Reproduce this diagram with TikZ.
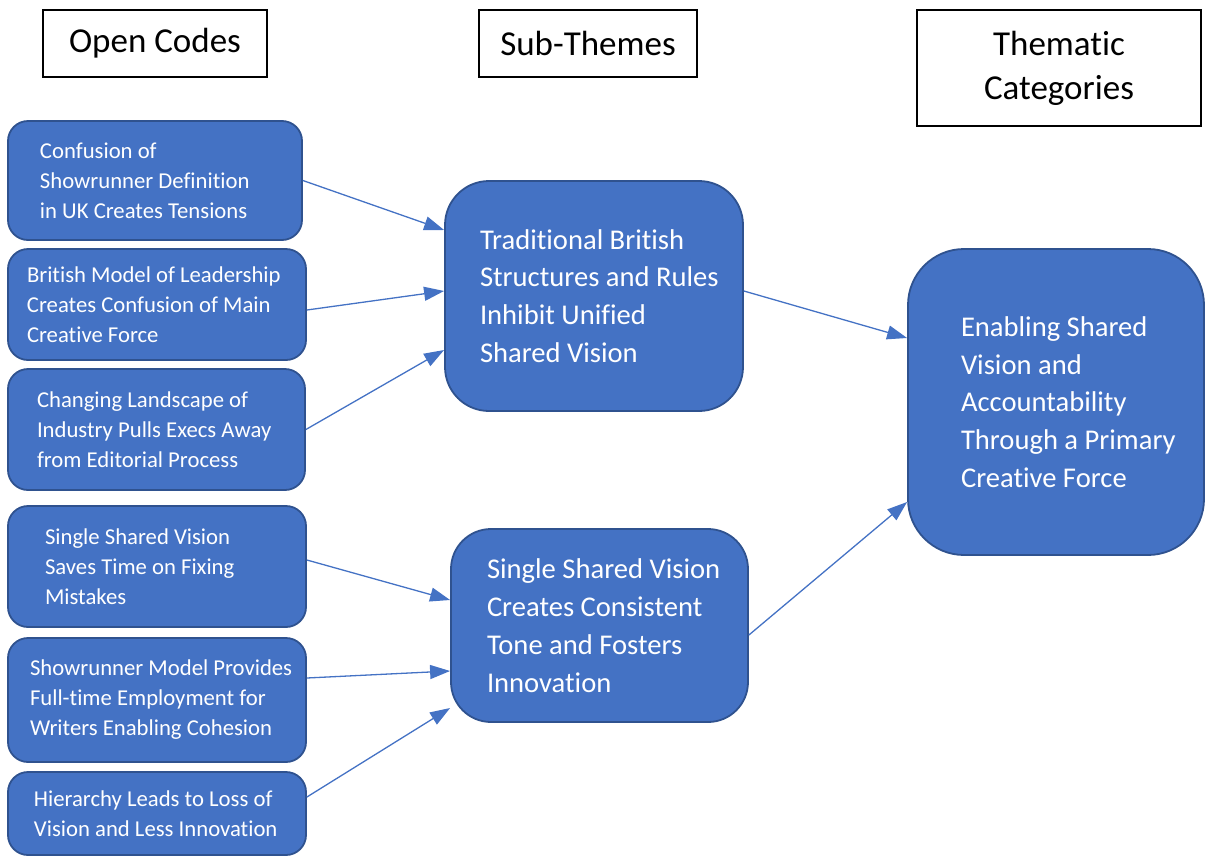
\documentclass[tikz,border=0pt]{standalone}
\usepackage{fontspec}
\setmainfont{Carlito}[Ligatures=NoCommon]
\usetikzlibrary{arrows.meta,calc}
\definecolor{boxblue}{HTML}{4472C4}
\definecolor{edgeblue}{HTML}{2F528F}

\begin{document}
\begin{tikzpicture}[x=0.5pt, y=-0.5pt,
    header/.style={draw=black, line width=1pt, font=\fontsize{17.5}{22}\selectfont, align=center, inner sep=0pt},
    code/.style={draw=edgeblue, fill=boxblue, text=white, line width=0.9pt, rounded corners=10pt,
        font=\fontsize{11.35}{15}\selectfont, align=flush left, inner sep=0pt, text width=149pt},
    theme/.style={code, font=\fontsize{14.3}{18.9}\selectfont},
    pad/.style={execute at begin node={\leftskip=#1\relax}},
    link/.style={draw=boxblue, line width=0.65pt, -{Triangle[length=10pt,width=7pt]}}]
    \useasboundingbox (0, 0) rectangle (1205, 857);
    % column headers
    \node[header, minimum width=112pt, minimum height=33.5pt] (hcodes) at (155, 43.5) {Open Codes};
    \node[header, minimum width=109pt, minimum height=33.5pt] (hsub) at (588, 43.5) {Sub-Themes};
    \node[header, minimum width=142pt, minimum height=58pt] (hcat) at (1059, 68) {Thematic\\Categories};
    % open codes
    \node[code, pad=16pt, text width=147pt, minimum height=59.5pt] (c1) at (155, 180.5) {Confusion of\\Showrunner Definition\\in UK Creates Tensions};
    \node[code, pad=9.5pt, minimum height=55.5pt] (c2) at (157, 304.5) {British Model of Leadership\\Creates Confusion of Main\\Creative Force};
    \node[code, pad=14.5pt, text width=148.5pt, minimum height=60.5pt] (c3) at (156.5, 429.5) {Changing Landscape of\\Industry Pulls Execs Away\\from Editorial Process};
    \node[code, pad=18.5pt, minimum height=60.5pt] (c4) at (157, 566.5) {Single Shared Vision\\Saves Time on Fixing\\Mistakes};
    \node[code, pad=11pt, minimum height=62pt] (c5) at (157, 700) {Showrunner Model Provides\\Full-time Employment for\\Writers Enabling Cohesion};
    \node[code, pad=13pt, minimum height=41.5pt] (c6) at (157, 813.5) {Hierarchy Leads to Loss of\\Vision and Less Innovation};
    % sub-themes
    \node[theme, pad=17.5pt, rounded corners=22pt, minimum height=115pt] (t1) at (594, 296) {Traditional British\\Structures and Rules\\Inhibit Unified\\Shared Vision};
    \node[theme, pad=18pt, rounded corners=20pt, text width=148.5pt, minimum height=96.5pt] (t2) at (599.5, 625.5) {Single Shared Vision\\Creates Consistent\\Tone and Fosters\\Innovation};
    % thematic category
    \node[theme, pad=26.5pt, rounded corners=28pt, text width=148pt, minimum height=153pt] (cat) at (1056, 402) {Enabling Shared\\Vision and\\Accountability\\Through a Primary\\Creative Force};
    % links
    \draw[link] (c1.east) -- ($(t1.west)+(0, -66)$);
    \draw[link] ($(c2.east)+(0, 5.5)$) -- ($(t1.west)+(0, -5)$);
    \draw[link] (c3.east) -- ($(t1.west)+(0, 54)$);
    \draw[link] ($(c4.east)+(0, -6.5)$) -- ($(t2.west)+(0, -25.5)$);
    \draw[link] ($(c5.east)+(0, -22)$) -- ($(t2.west)+(0, 45.5)$);
    \draw[link] ($(c6.east)+(0, -16.5)$) -- ($(t2.west)+(0, 82.5)$);
    \draw[link] ($(t1.east)+(0, -5)$) -- ($(cat.west)+(0, -64)$);
    \draw[link] ($(t2.east)+(0, 9.5)$) -- ($(cat.west)+(0, 100)$);
\end{tikzpicture}
\end{document}
